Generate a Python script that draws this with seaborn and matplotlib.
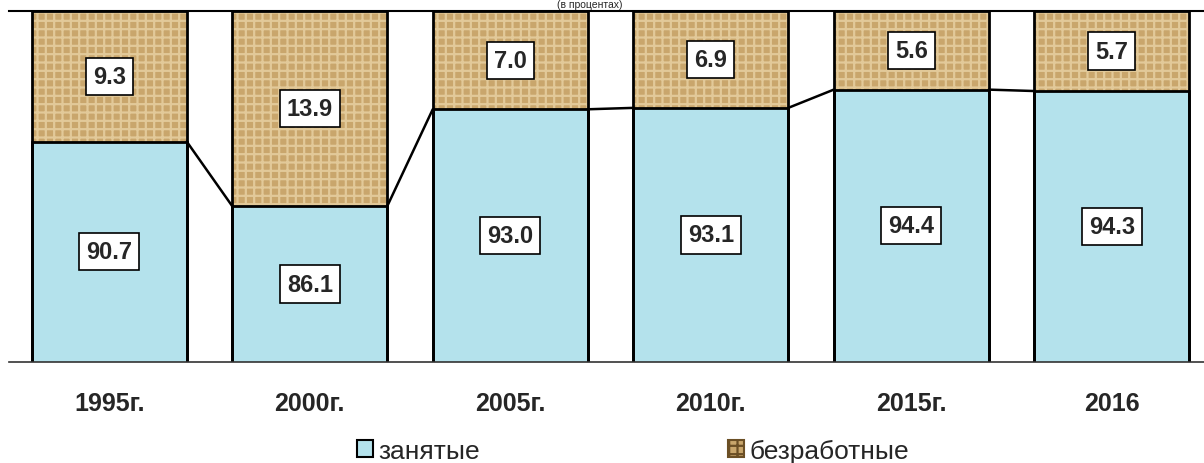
import numpy as np
import pandas as pd
import seaborn as sns
import matplotlib.pyplot as plt
from matplotlib.patches import Patch

# --- dati ---
years = ['1995г.', '2000г.', '2005г.', '2010г.', '2015г.', '2016']
employed = [90.7, 86.1, 93.0, 93.1, 94.4, 94.3]
unemployed = [9.3, 13.9, 7.0, 6.9, 5.6, 5.7]
series_names = ['занятые', 'безработные']

df = pd.DataFrame({'year': years, 'emp': employed, 'unemp': unemployed})
df['total'] = df['emp'] + df['unemp']

blue = '#b4e2ec'
brown = '#c9a66c'
bar_w = 0.773

sns.set_style('white')
plt.rcParams['font.family'] = ['Liberation Sans', 'DejaVu Sans']
plt.rcParams['hatch.linewidth'] = 1.6

fig = plt.figure(figsize=(12.04, 4.64), dpi=100)
ax = fig.add_axes([9 / 1204, 101 / 464, 1203 / 1204, 351 / 464])

# strato marrone (totale) con trama
sns.barplot(data=df, x='year', y='total', color=brown, saturation=1, width=bar_w,
            edgecolor='#e2c999', linewidth=0, hatch='++', errorbar=None, ax=ax)
# strato blu (occupati)
sns.barplot(data=df, x='year', y='emp', color=blue, saturation=1, width=bar_w,
            edgecolor='black', linewidth=2, errorbar=None, ax=ax)
# contorno barre totali
sns.barplot(data=df, x='year', y='total', color='black', fill=False, width=bar_w,
            linewidth=2, errorbar=None, ax=ax)

ax.set_ylim(75, 100)
ax.set_xlim(-0.5, len(years) - 0.5)

# linee di collegamento
for i in range(len(years) - 1):
    ax.plot([i + bar_w / 2, i + 1 - bar_w / 2], [employed[i], employed[i + 1]],
            color='black', lw=1.8, zorder=5)

# etichette valori
box = dict(boxstyle='square,pad=0.3', fc='white', ec='black', lw=1.2)
for i in range(len(years)):
    ax.text(i, (75 + employed[i]) / 2, f'{employed[i]:.1f}', ha='center', va='center',
            fontsize=17, fontweight='bold', bbox=box, zorder=6)
    ax.text(i, employed[i] + unemployed[i] / 2, f'{unemployed[i]:.1f}', ha='center',
            va='center', fontsize=17, fontweight='bold', bbox=box, zorder=6)

# assi
for s in ['left', 'right']:
    ax.spines[s].set_visible(False)
ax.spines['bottom'].set_color('#333333')
ax.spines['bottom'].set_linewidth(1.2)
ax.spines['top'].set_color('black')
ax.spines['top'].set_linewidth(1.5)
ax.set_yticks([])
ax.set_xticks(np.arange(-0.5, len(years)), labels=[])
ax.tick_params(axis='x', which='major', direction='out', length=6, color='#555555', width=1)
ax.set_xticks(np.arange(len(years)), labels=years, minor=True)
ax.tick_params(axis='x', which='minor', length=0, pad=21, labelsize=18)
for t in ax.get_xticklabels(minor=True):
    t.set_fontweight('bold')
ax.set_xlabel('')
ax.set_ylabel('')

# titolo in alto (piccolo, sopra l'area del grafico)
fig.text(590 / 1204, 1 - 0.5 / 464, '(в процентах)', ha='center', va='top', fontsize=7.5)

# legenda
handles = [Patch(facecolor=blue, edgecolor='black', lw=1.5),
           Patch(facecolor=brown, edgecolor='#6b4f25', hatch='++', lw=1.5)]
fig.legend(handles, series_names, loc='center', bbox_to_anchor=(633 / 1204, 1 - 452 / 464),
           ncol=2, frameon=False, fontsize=19, handlelength=0.6, handleheight=0.6,
           handletextpad=0.2, columnspacing=9.4, borderaxespad=0, borderpad=0)

fig.savefig('out.png', dpi=100)
